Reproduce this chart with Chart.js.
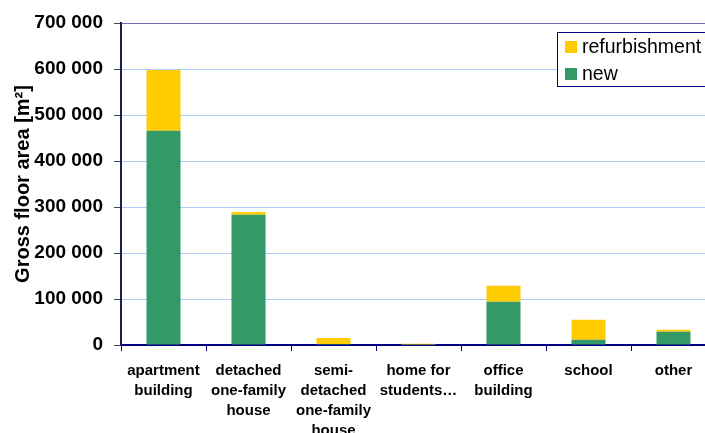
<!DOCTYPE html>
<html>
<head>
<meta charset="utf-8">
<script src="https://cdn.jsdelivr.net/npm/chart.js@4"></script>
<style>
  html, body { margin: 0; padding: 0; background: #ffffff; overflow: hidden; width: 705px; height: 433px; }
  #wrap { width: 730px; height: 433px; }
</style>
</head>
<body>
<div id="wrap"><canvas id="c" width="730" height="433"></canvas></div>
<script>
const categories = [
  ["apartment", "building"],
  ["detached", "one-family", "house"],
  ["semi-", "detached", "one-family", "house"],
  ["home for", "students\u2026"],
  ["office", "building"],
  ["school"],
  ["other"]
];
const newValues = [466000, 283000, 2000, 0, 94000, 11500, 29000];
const refurbishmentValues = [132000, 6000, 13000, 2500, 35000, 43500, 4000];
const yTickLabels = ["0", "100 000", "200 000", "300 000", "400 000", "500 000", "600 000", "700 000"];
const seriesNames = ["new", "refurbishment"];
const yTitle = "Gross floor area [m\u00b2]";

const FONT = '"Liberation Sans", Arial, Helvetica, sans-serif';
const GREEN = '#339966';
const YELLOW = '#FFCC00';
const GRID_BLUE = '#a8ccf4';
const TOP_LINE = '#6e6eb2';

const gridColors = yTickLabels.map((_, i) =>
  i === 0 ? 'rgba(0,0,0,0)' : (i === yTickLabels.length - 1 ? TOP_LINE : GRID_BLUE));

const legendBox = {
  id: 'legendBox',
  afterDraw(chart) {
    const ctx = chart.ctx;
    const a = chart.chartArea;
    const x0 = a.left + 436, y0 = a.top + 9, w = 200, h = 54;
    ctx.save();
    ctx.fillStyle = '#ffffff';
    ctx.fillRect(x0, y0, w, h);
    ctx.strokeStyle = '#000080';
    ctx.lineWidth = 1;
    ctx.strokeRect(x0 + 0.5, y0 + 0.5, w, h);
    const items = chart.data.datasets.slice().reverse();
    ctx.font = '19.5px ' + FONT;
    ctx.textBaseline = 'middle';
    ctx.textAlign = 'left';
    items.forEach((ds, i) => {
      const cy = y0 + 15 + i * 27;
      ctx.fillStyle = ds.backgroundColor;
      ctx.fillRect(x0 + 8, cy - 6, 12, 12);
      ctx.fillStyle = '#000000';
      ctx.fillText(ds.label, x0 + 25, cy + 1);
    });
    ctx.restore();
  }
};

new Chart(document.getElementById('c'), {
  type: 'bar',
  data: {
    labels: categories,
    datasets: [
      { label: seriesNames[0], data: newValues, backgroundColor: GREEN, borderWidth: 0 },
      { label: seriesNames[1], data: refurbishmentValues, backgroundColor: YELLOW, borderWidth: 0 }
    ]
  },
  options: {
    responsive: false,
    animation: false,
    devicePixelRatio: 1,
    layout: { padding: { left: 0, right: 14, top: 23, bottom: 0 } },
    datasets: { bar: { categoryPercentage: 1.0, barPercentage: 0.4 } },
    plugins: {
      legend: { display: false },
      tooltip: { enabled: false },
      title: { display: false }
    },
    scales: {
      x: {
        stacked: true,
        grid: {
          display: true,
          drawOnChartArea: false,
          drawTicks: true,
          tickLength: 6,
          tickColor: '#000080',
          offset: true
        },
        border: { display: true, color: '#000080', width: 2 },
        ticks: {
          color: '#000000',
          padding: 10,
          maxRotation: 0,
          autoSkip: false,
          font: { family: FONT, size: 15, weight: 'bold', lineHeight: 1.33 }
        },
        afterFit(scale) { scale.height = 88; }
      },
      y: {
        stacked: true,
        min: 0,
        max: 700000,
        ticks: {
          stepSize: 100000,
          color: '#000000',
          padding: 11,
          font: { family: FONT, size: 19, weight: 'bold' },
          callback: (v) => yTickLabels[Math.round(v / 100000)]
        },
        grid: {
          color: gridColors,
          lineWidth: 1,
          tickLength: 7,
          tickColor: '#444444'
        },
        border: { display: true, color: '#1c1c50', width: 2 },
        title: {
          display: true,
          text: yTitle,
          color: '#000000',
          padding: { top: 11, bottom: 0 },
          font: { family: FONT, size: 20, weight: 'bold' }
        },
        afterFit(scale) { scale.width = 121; }
      }
    }
  },
  plugins: [legendBox]
});
</script>
</body>
</html>
